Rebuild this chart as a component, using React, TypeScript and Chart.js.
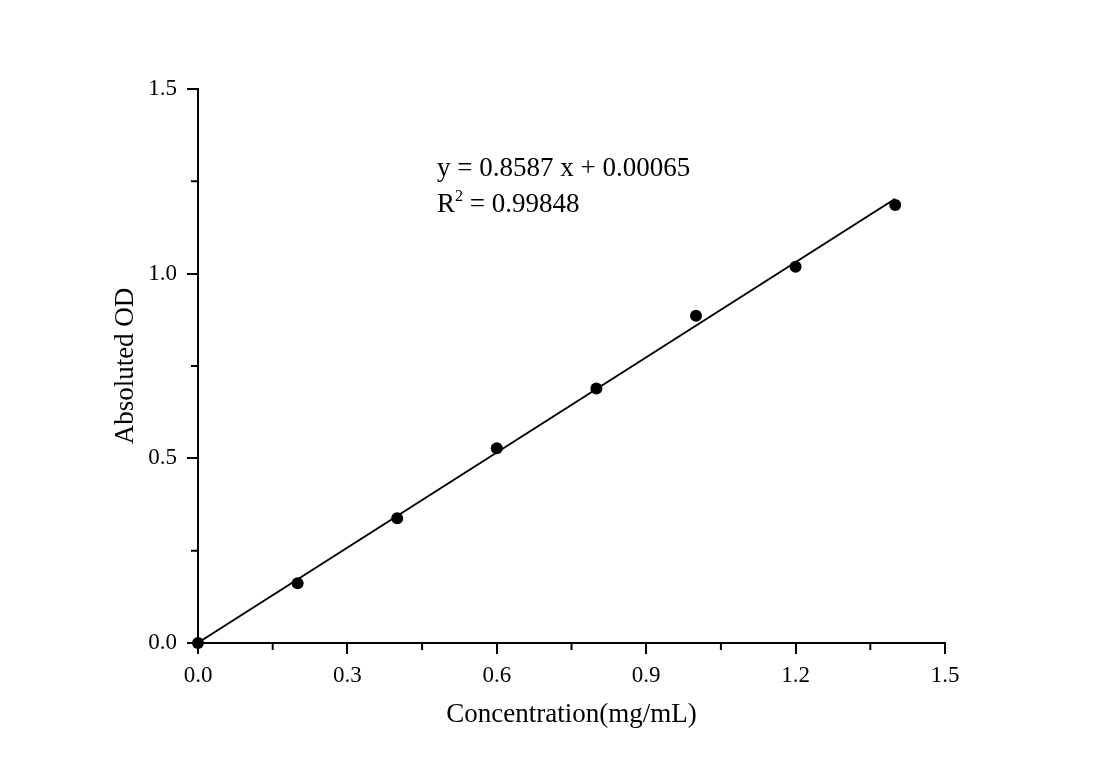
import { useEffect, useRef } from "react";
import { Chart, registerables } from "chart.js";

Chart.register(...registerables);

const concentration = [0, 0.2, 0.4, 0.6, 0.8, 1.0, 1.2, 1.4];
const absorbance = [0, 0.162, 0.338, 0.527, 0.689, 0.886, 1.019, 1.186];
const fitX = [0, 1.4];
const fitY = [0.0007, 1.2028];
const xMinorTicks = [0.15, 0.45, 0.75, 1.05, 1.35];
const yMinorTicks = [0.25, 0.75, 1.25];
const equationText = "y = 0.8587 x + 0.00065";
const r2Value = " = 0.99848";

const FONT = "'Liberation Serif', 'Times New Roman', serif";

const minorTicksPlugin = {
  id: "minorTicks",
  afterDraw(chart: any) {
    const { ctx, chartArea, scales } = chart;
    ctx.save();
    ctx.strokeStyle = "#000";
    ctx.lineWidth = 2;
    ctx.beginPath();
    xMinorTicks.forEach((v) => {
      const px = scales.x.getPixelForValue(v);
      ctx.moveTo(px, chartArea.bottom);
      ctx.lineTo(px, chartArea.bottom + 7);
    });
    yMinorTicks.forEach((v) => {
      const py = scales.y.getPixelForValue(v);
      ctx.moveTo(chartArea.left, py);
      ctx.lineTo(chartArea.left - 7, py);
    });
    ctx.stroke();

    // fit equation
    const x0 = chartArea.left + 239;
    ctx.fillStyle = "#000";
    ctx.textBaseline = "alphabetic";
    ctx.textAlign = "left";
    ctx.font = `27px ${FONT}`;
    ctx.fillText(equationText, x0, chartArea.top + 87);
    const base2 = chartArea.top + 123;
    ctx.fillText("R", x0, base2);
    const rw = ctx.measureText("R").width;
    ctx.font = `16px ${FONT}`;
    ctx.fillText("2", x0 + rw, base2 - 11);
    const sw = ctx.measureText("2").width;
    ctx.font = `27px ${FONT}`;
    ctx.fillText(r2Value, x0 + rw + sw, base2);
    ctx.restore();
  },
};

export default function App() {
  const chartRef = useRef<HTMLCanvasElement>(null);
  const chartInstance = useRef<Chart | null>(null);

  useEffect(() => {
    if (!chartRef.current) return;
    const ctx = chartRef.current.getContext("2d");
    if (!ctx) return;

    chartInstance.current = new Chart(ctx, {
      type: "scatter",
      data: {
        datasets: [
          {
            label: "Fit",
            data: fitX.map((x, i) => ({ x, y: fitY[i] })),
            showLine: true,
            borderColor: "#000",
            borderWidth: 2,
            pointRadius: 0,
            clip: false,
          },
          {
            label: "Absoluted OD",
            data: concentration.map((x, i) => ({ x, y: absorbance[i] })),
            backgroundColor: "#000",
            borderColor: "#000",
            pointRadius: 6,
            pointBorderWidth: 0,
            clip: false,
          },
        ],
      },
      options: {
        animation: false,
        responsive: true,
        maintainAspectRatio: false,
        layout: {
          padding: { left: 110, right: 155, top: 89, bottom: 41 },
        },
        plugins: {
          legend: { display: false },
          tooltip: { enabled: false },
        },
        scales: {
          x: {
            type: "linear",
            min: 0,
            max: 1.5,
            afterFit: (scale: any) => {
              scale.height = 88;
            },
            ticks: {
              stepSize: 0.3,
              color: "#000",
              padding: 8,
              maxRotation: 0,
              font: { family: FONT, size: 23 },
              callback: (v: any) => Number(v).toFixed(1),
            },
            grid: {
              drawOnChartArea: false,
              drawTicks: true,
              tickLength: 11,
              tickColor: "#000",
              lineWidth: 2,
            },
            border: { display: true, color: "#000", width: 2 },
            title: {
              display: true,
              text: "Concentration(mg/mL)",
              color: "#000",
              padding: 0,
              font: { family: FONT, size: 27, weight: "normal" },
            },
          },
          y: {
            type: "linear",
            min: 0,
            max: 1.5,
            afterFit: (scale: any) => {
              scale.width = 88;
            },
            ticks: {
              stepSize: 0.5,
              color: "#000",
              padding: 10,
              font: { family: FONT, size: 23 },
              callback: (v: any) => Number(v).toFixed(1),
            },
            grid: {
              drawOnChartArea: false,
              drawTicks: true,
              tickLength: 11,
              tickColor: "#000",
              lineWidth: 2,
            },
            border: { display: true, color: "#000", width: 2 },
            title: {
              display: true,
              text: "Absoluted OD",
              color: "#000",
              padding: 0,
              font: { family: FONT, size: 27, weight: "normal" },
            },
          },
        },
      },
      plugins: [minorTicksPlugin],
    });

    return () => {
      if (chartInstance.current) {
        chartInstance.current.destroy();
      }
    };
  }, []);

  return (
    <div
      style={{
        position: "absolute",
        left: 0,
        top: 0,
        width: 1100,
        height: 772,
        background: "#fff",
      }}
    >
      <canvas ref={chartRef} />
    </div>
  );
}
